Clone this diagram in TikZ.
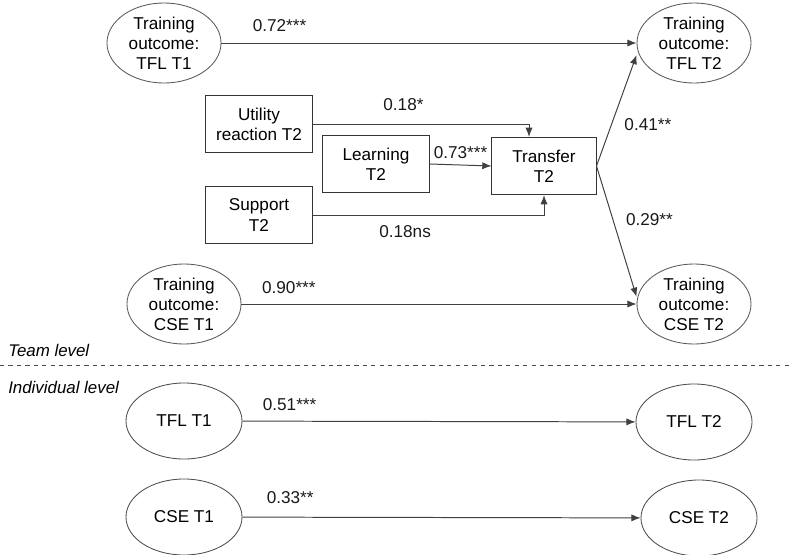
\documentclass[tikz,border=0pt]{standalone}
\usepackage{fontspec}
\setmainfont{Liberation Sans}
\usetikzlibrary{shapes.geometric, arrows.meta, positioning, calc}
\tikzset{
    font=\fontsize{12.2}{14.3}\selectfont,
    >={Latex[length=2.3mm, width=1.8mm]},
    % Shapes
    latent/.style={ellipse, draw=black!65, line width=0.6pt, align=center,
                   minimum width=2.85cm, minimum height=2.0cm, inner sep=0pt},
    observed/.style={rectangle, draw=black!80, line width=0.7pt, align=center,
                     minimum width=2.65cm, minimum height=1.43cm},
    indiv/.style={ellipse, draw=black!70, line width=0.6pt, align=center,
                  minimum width=2.9cm, minimum height=1.9cm},
    % Paths & Labels
    path/.style={->, line width=0.7pt, black!75},
    coef/.style={inner sep=1pt, text=black!90},
    levellbl/.style={anchor=west, inner sep=0pt, font=\itshape\fontsize{12}{14}\selectfont}
}

\begin{document}
\begin{tikzpicture}[x=0.025cm, y=-0.025cm]
\useasboundingbox (0,0) rectangle (791,554);

% Team level
\node[latent] (tflA) at (164,43) {Training\\outcome:\\TFL T1};
\node[latent] (tflB) at (694,43) {Training\\outcome:\\TFL T2};
\node[observed] (util) at (259,124) {Utility\\reaction T2};
\node[observed] (learn) at (376,164) {Learning\\T2};
\node[observed] (supp) at (259,215) {Support\\T2};
\node[observed, minimum width=2.6cm] (trans) at (544,166) {Transfer\\T2};
\node[latent] (cseA) at (184,304) {Training\\outcome:\\CSE T1};
\node[latent] (cseB) at (694,304) {Training\\outcome:\\CSE T2};

\draw[path] (tflA) -- node[coef, pos=0.14, above=7pt] {0.72***} (tflB);
\draw[path] (util.east) -| node[coef, pos=0.21, above=8pt] {0.18*} ($(trans.north)+(-15,0)$);
\draw[path] (learn.east) -- node[coef, above=3pt] {0.73***} (trans.west);
\draw[path] (supp.east) -| node[coef, pos=0.2, below=6pt] {0.18ns} (trans.south);
\draw[path] (trans.east) -- node[coef, pos=0.37, right=8pt] {0.41**} ([yshift=-0.3cm]tflB.west);
\draw[path] (trans.east) -- node[coef, pos=0.41, right=8pt] {0.29**} ([yshift=0.18cm]cseB.west);
\draw[path] (cseA) -- node[coef, pos=0.12, above=6pt] {0.90***} (cseB);

% Levels
\node[levellbl] (team) at (8,350) {Team level};
\coordinate (sepL) at (0,365);
\coordinate (sepR) at (791,365);
\draw[dashed, black!70, line width=0.6pt] (sepL) -- (sepR);
\node[levellbl] (indiv) at (8,387) {Individual level};

% Individual level
\node[indiv] (tflI) at (184,421) {TFL T1};
\node[indiv] (tflJ) at (694,422) {TFL T2};
\node[indiv] (cseI) at (184,517) {CSE T1};
\node[indiv] (cseJ) at (699,518) {CSE T2};

\draw[path] (tflI) -- node[coef, pos=0.12, above=6pt] {0.51***} (tflJ);
\draw[path] (cseI) -- node[coef, pos=0.12, above=8pt] {0.33**} (cseJ);

\end{tikzpicture}
\end{document}
